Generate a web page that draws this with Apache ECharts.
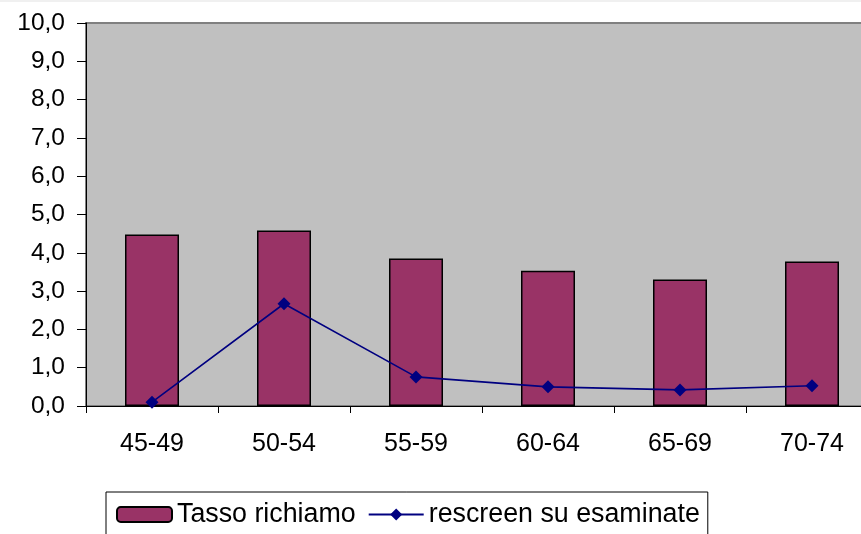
<!DOCTYPE html>
<html>
<head>
<meta charset="utf-8">
<script src="https://cdn.jsdelivr.net/npm/echarts@6/dist/echarts.min.js"></script>
<style>
html,body{margin:0;padding:0;background:#fff;overflow:hidden;}
#c{width:878px;height:534px;}
</style>
</head>
<body>
<div id="c"></div>
<script>
var categories = ['45-49','50-54','55-59','60-64','65-69','70-74'];
var tassoRichiamo = [4.48, 4.58, 3.85, 3.53, 3.30, 3.77];
var rescreen = [0.10, 2.67, 0.76, 0.50, 0.42, 0.53];
var yTicks = {min: 0, max: 10, interval: 1};

var chart = echarts.init(document.getElementById('c'), null, {renderer: 'canvas'});
var font = '"Liberation Sans", Arial, sans-serif';
chart.setOption({
  animation: false,
  backgroundColor: '#fff',
  textStyle: {fontFamily: font},
  graphic: [{type: 'rect', shape: {x: 0, y: 0, width: 878, height: 2}, style: {fill: '#f0f0f0'}, silent: true}],
  grid: {
    left: 86, top: 23, right: 0, bottom: 128,
    show: true, backgroundColor: '#C0C0C0', borderColor: '#808080', borderWidth: 2
  },
  legend: {
    left: 106, top: 492,
    borderColor: '#000', borderWidth: 1, borderRadius: 0,
    padding: [9, 8, 20, 10],
    itemWidth: 55, itemHeight: 15, itemGap: 12,
    textStyle: {fontFamily: font, fontSize: 26.8, color: '#000'},
    data: ['Tasso richiamo', 'rescreen su esaminate']
  },
  xAxis: {
    type: 'category',
    data: categories,
    boundaryGap: true,
    axisLine: {lineStyle: {color: '#000', width: 1}},
    axisTick: {show: true, alignWithLabel: false, length: 7, lineStyle: {color: '#000'}},
    axisLabel: {fontFamily: font, fontSize: 25, color: '#000', margin: 26},
    splitLine: {show: false}
  },
  yAxis: {
    type: 'value',
    min: yTicks.min, max: yTicks.max, interval: yTicks.interval,
    axisLine: {show: true, lineStyle: {color: '#000', width: 1}},
    axisTick: {show: true, length: 9, lineStyle: {color: '#000'}},
    axisLabel: {fontFamily: font, fontSize: 24.5, color: '#000', margin: 21,
      formatter: function(v){ return v.toFixed(1).replace('.', ','); }},
    splitLine: {show: false}
  },
  series: [
    {
      name: 'Tasso richiamo',
      type: 'bar',
      data: tassoRichiamo,
      barWidth: 54,
      itemStyle: {color: '#993366', borderColor: '#000', borderWidth: 1.5}
    },
    {
      name: 'rescreen su esaminate',
      type: 'line',
      data: rescreen,
      symbol: 'diamond',
      symbolSize: 13,
      lineStyle: {color: '#000080', width: 1.6},
      itemStyle: {color: '#000080'}
    }
  ]
});
</script>
</body>
</html>
